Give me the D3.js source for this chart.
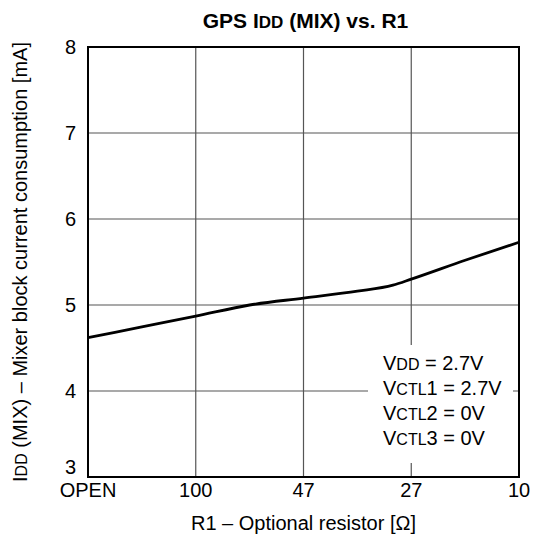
<!DOCTYPE html>
<html>
<head>
<meta charset="utf-8">
<script src="https://cdn.jsdelivr.net/npm/d3@7/dist/d3.min.js"></script>
<style>
  html, body { margin: 0; padding: 0; background: #fff; }
  svg text { font-family: "Liberation Sans", Arial, Helvetica, sans-serif; fill: #000; }
</style>
</head>
<body>
<div id="chart"></div>
<script>
// Category labels along the resistor axis (left to right)
const categories = ["OPEN", "100", "47", "27", "10"];
// Measured curve: position along the category axis (0 = OPEN ... 4 = 10 Ω) and current in mA
const curvePos = [0, 0.5, 1, 1.5, 2, 2.5, 2.83, 3, 3.5, 4];
const curveIdd = [4.62, 4.745, 4.87, 5.0, 5.08, 5.16, 5.23, 5.30, 5.52, 5.73];
const yTicks = [3, 4, 5, 6, 7, 8];
// Test conditions: [main, small-caps subscript, rest]
const conditions = [
  ["V", "DD", " = 2.7V"],
  ["V", "CTL", "1 = 2.7V"],
  ["V", "CTL", "2 = 0V"],
  ["V", "CTL", "3 = 0V"]
];

const W = 535, H = 543;
const margin = { left: 88, right: 16, top: 47, bottom: 66 };
const x0 = margin.left, x1 = W - margin.right, y0 = margin.top, y1 = H - margin.bottom;

const svg = d3.select("#chart").append("svg").attr("width", W).attr("height", H);

const x = d3.scaleLinear().domain([0, categories.length - 1]).range([x0, x1]);
const y = d3.scaleLinear().domain([3, 8]).range([y1, y0]);

// Grid
const grid = svg.append("g");
grid.selectAll("line.h").data(yTicks.slice(1, -1)).join("line")
  .attr("x1", x0).attr("x2", x1)
  .attr("y1", d => y(d)).attr("y2", d => y(d))
  .attr("stroke", "#555").attr("stroke-width", 1.2);
grid.selectAll("line.v").data(d3.range(1, categories.length - 1)).join("line")
  .attr("y1", y0).attr("y2", y1)
  .attr("x1", d => x(d)).attr("x2", d => x(d))
  .attr("stroke", "#555").attr("stroke-width", 1.2);

// Curve
const line = d3.line().x((d, i) => x(curvePos[i])).y(d => y(d)).curve(d3.curveMonotoneX);
svg.append("path").datum(curveIdd)
  .attr("d", line).attr("fill", "none")
  .attr("stroke", "#000").attr("stroke-width", 2.8).attr("stroke-linejoin", "round");

// Conditions box
const boxX = 368, boxY = 345, boxW = 145, boxH = 118;
svg.append("rect").attr("x", boxX).attr("y", boxY).attr("width", boxW).attr("height", boxH).attr("fill", "#fff");
const cond = svg.append("g");
conditions.forEach((c, i) => {
  const t = cond.append("text").attr("x", 383).attr("y", 370 + i * 25).attr("font-size", 20);
  t.append("tspan").text(c[0]);
  t.append("tspan").attr("font-size", 16).text(c[1]);
  t.append("tspan").text(c[2]);
});

// Frame
svg.append("rect").attr("x", x0).attr("y", y0).attr("width", x1 - x0).attr("height", y1 - y0)
  .attr("fill", "none").attr("stroke", "#000").attr("stroke-width", 2);

// Y tick labels
svg.selectAll("text.yt").data(yTicks).join("text")
  .attr("class", "yt")
  .attr("x", 76).attr("y", d => y(d) + (d === 3 ? -3 : 7))
  .attr("text-anchor", "end").attr("font-size", 20)
  .text(d => d);

// X tick labels
svg.selectAll("text.xt").data(categories).join("text")
  .attr("class", "xt")
  .attr("x", (d, i) => x(i)).attr("y", y1 + 20)
  .attr("text-anchor", "middle").attr("font-size", 20)
  .text(d => d);

// Axis titles
svg.append("text").attr("x", (x0 + x1) / 2).attr("y", y1 + 53)
  .attr("text-anchor", "middle").attr("font-size", 20)
  .text("R1 – Optional resistor [Ω]");

const yl = svg.append("text")
  .attr("transform", `translate(27,${(y0 + y1) / 2}) rotate(-90)`)
  .attr("text-anchor", "middle").attr("font-size", 20);
yl.append("tspan").text("I");
yl.append("tspan").attr("font-size", 16).text("DD");
yl.append("tspan").text(" (MIX) – Mixer block current consumption [mA]");

// Title
const title = svg.append("text").attr("x", (x0 + x1) / 2 + 2).attr("y", 28)
  .attr("text-anchor", "middle").attr("font-size", 21).attr("font-weight", "bold");
title.append("tspan").text("GPS I");
title.append("tspan").attr("font-size", 17).text("DD");
title.append("tspan").text(" (MIX) vs. R1");
</script>
</body>
</html>
